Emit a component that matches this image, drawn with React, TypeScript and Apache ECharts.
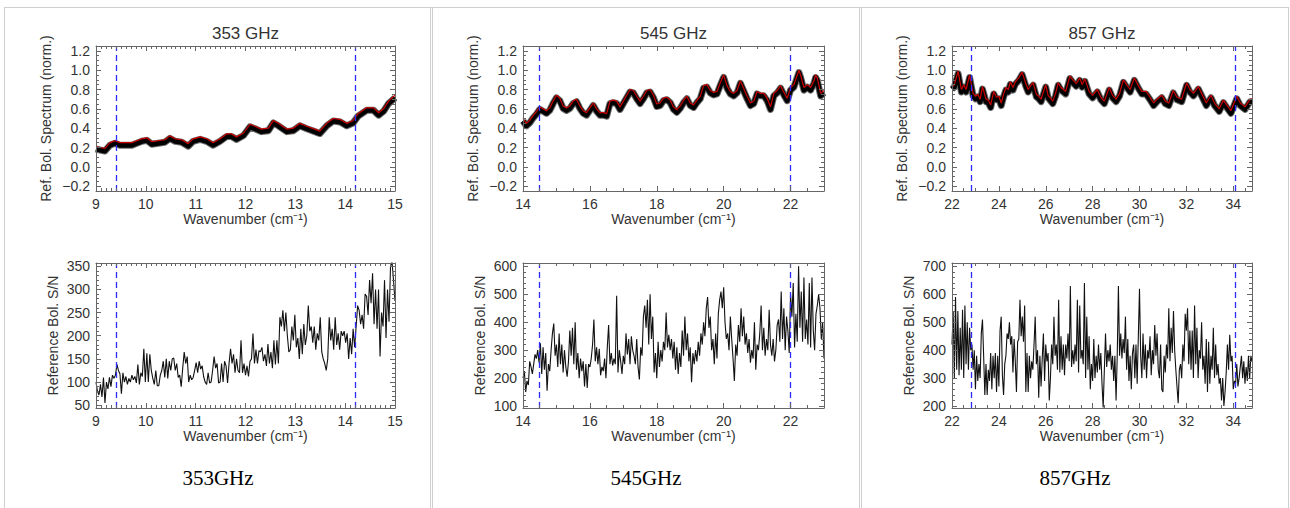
import React, { useEffect, useRef } from "react";
import * as echarts from "echarts";

// ---------------- DATA ----------------
const titles = ["353 GHz", "545 GHz", "857 GHz"];
const captions = ["353GHz", "545GHz", "857GHz"];
const specAxisName = "Ref. Bol. Spectrum (norm.)";
const snAxisName = "Reference Bol. S/N";
const xAxisName = "Wavenumber (cm\u207B\u00B9)";

// normalised reference bolometer spectra (red model line, black band)
const spec353X = [9.00, 9.08, 9.18, 9.28, 9.38, 9.48, 9.62, 9.72, 9.82, 9.92, 10.02, 10.12, 10.25, 10.38, 10.48, 10.59, 10.72, 10.85, 10.95, 11.09, 11.22, 11.35, 11.49, 11.62, 11.72, 11.82, 11.96, 12.09, 12.19, 12.32, 12.46, 12.56, 12.66, 12.83, 12.96, 13.09, 13.23, 13.39, 13.49, 13.63, 13.76, 13.90, 14.03, 14.16, 14.26, 14.43, 14.57, 14.67, 14.77, 14.87, 15.00];
const spec353Y = [0.21, 0.20, 0.19, 0.25, 0.27, 0.25, 0.25, 0.25, 0.27, 0.29, 0.30, 0.26, 0.27, 0.28, 0.32, 0.29, 0.28, 0.24, 0.29, 0.31, 0.29, 0.25, 0.29, 0.34, 0.34, 0.31, 0.35, 0.44, 0.42, 0.39, 0.40, 0.48, 0.45, 0.39, 0.40, 0.45, 0.42, 0.39, 0.37, 0.45, 0.50, 0.49, 0.45, 0.48, 0.55, 0.61, 0.61, 0.56, 0.60, 0.68, 0.74];

const spec545X = [14.0, 14.1, 14.2, 14.3, 14.4, 14.5, 14.6, 14.7, 14.8, 14.9, 15.0, 15.1, 15.2, 15.3, 15.4, 15.5, 15.6, 15.7, 15.8, 15.9, 16.0, 16.1, 16.2, 16.3, 16.4, 16.5, 16.6, 16.7, 16.8, 16.9, 17.0, 17.1, 17.2, 17.3, 17.4, 17.5, 17.6, 17.7, 17.8, 17.9, 18.0, 18.1, 18.2, 18.3, 18.4, 18.5, 18.6, 18.7, 18.8, 18.9, 19.0, 19.1, 19.2, 19.3, 19.4, 19.5, 19.6, 19.7, 19.8, 19.9, 20.0, 20.1, 20.2, 20.3, 20.4, 20.5, 20.6, 20.7, 20.8, 20.9, 21.0, 21.1, 21.2, 21.3, 21.4, 21.5, 21.6, 21.7, 21.8, 21.9, 22.0, 22.1, 22.2, 22.25, 22.3, 22.4, 22.5, 22.6, 22.7, 22.75, 22.8, 22.9, 23.0];
const spec545Y = [0.50, 0.45, 0.48, 0.53, 0.57, 0.62, 0.60, 0.58, 0.61, 0.68, 0.74, 0.71, 0.63, 0.61, 0.63, 0.68, 0.70, 0.63, 0.58, 0.56, 0.61, 0.66, 0.60, 0.56, 0.56, 0.55, 0.68, 0.69, 0.68, 0.62, 0.68, 0.74, 0.80, 0.79, 0.73, 0.68, 0.73, 0.79, 0.80, 0.74, 0.65, 0.66, 0.71, 0.72, 0.69, 0.62, 0.59, 0.63, 0.69, 0.73, 0.66, 0.64, 0.69, 0.73, 0.84, 0.85, 0.79, 0.77, 0.78, 0.87, 0.95, 0.84, 0.78, 0.76, 0.79, 0.89, 0.81, 0.73, 0.66, 0.68, 0.78, 0.76, 0.76, 0.71, 0.62, 0.76, 0.79, 0.84, 0.77, 0.71, 0.82, 0.85, 0.95, 1.00, 0.95, 0.82, 0.85, 0.82, 0.89, 0.95, 0.92, 0.76, 0.79];

const spec857X = [22.0, 22.1, 22.26, 22.4, 22.5, 22.6, 22.75, 22.9, 23.0, 23.1, 23.2, 23.3, 23.45, 23.55, 23.65, 23.78, 23.9, 24.0, 24.1, 24.2, 24.3, 24.4, 24.49, 24.6, 24.7, 24.85, 24.99, 25.15, 25.25, 25.35, 25.46, 25.6, 25.7, 25.8, 26.0, 26.1, 26.2, 26.3, 26.42, 26.53, 26.65, 26.85, 27.03, 27.15, 27.3, 27.45, 27.55, 27.67, 27.85, 28.0, 28.2, 28.35, 28.5, 28.71, 28.85, 29.0, 29.15, 29.31, 29.45, 29.6, 29.78, 29.95, 30.1, 30.28, 30.45, 30.6, 30.75, 30.95, 31.1, 31.25, 31.44, 31.6, 31.8, 32.01, 32.15, 32.3, 32.51, 32.65, 32.85, 33.05, 33.2, 33.4, 33.58, 33.75, 33.9, 34.15, 34.3, 34.5, 34.72, 34.8];
const spec857Y = [0.83, 0.85, 0.99, 0.80, 0.85, 0.80, 0.95, 0.76, 0.73, 0.75, 0.70, 0.83, 0.70, 0.69, 0.64, 0.78, 0.72, 0.73, 0.66, 0.75, 0.82, 0.80, 0.88, 0.82, 0.88, 0.92, 0.98, 0.86, 0.80, 0.84, 0.87, 0.75, 0.73, 0.70, 0.85, 0.74, 0.71, 0.68, 0.76, 0.87, 0.82, 0.78, 0.94, 0.90, 0.86, 0.92, 0.85, 0.91, 0.78, 0.74, 0.80, 0.72, 0.68, 0.82, 0.74, 0.70, 0.76, 0.90, 0.85, 0.80, 0.92, 0.84, 0.78, 0.78, 0.72, 0.66, 0.70, 0.74, 0.68, 0.66, 0.79, 0.72, 0.70, 0.87, 0.80, 0.76, 0.83, 0.76, 0.66, 0.74, 0.66, 0.60, 0.69, 0.63, 0.58, 0.73, 0.66, 0.62, 0.70, 0.70];

// reference bolometer S/N, sampled on a regular wavenumber grid
const sn353Start = 9.0;
const sn353Step = 0.03;
const sn353 = [
  100, 80, 72, 95, 68, 110, 55, 100, 85, 110,
  90, 115, 108, 115, 138, 125, 118, 75, 120, 100,
  112, 95, 108, 100, 115, 105, 112, 98, 138, 95,
  120, 112, 172, 100, 162, 100, 160, 125, 108, 95,
  125, 92, 92, 115, 125, 145, 110, 150, 108, 145,
  125, 150, 152, 125, 140, 110, 115, 90, 130, 165,
  140, 155, 100, 115, 105, 110, 125, 142, 120, 145,
  128, 135, 112, 100, 95, 120, 98, 100, 125, 155,
  130, 140, 98, 100, 140, 100, 145, 135, 98, 140,
  172, 140, 160, 120, 150, 125, 120, 190, 120, 140,
  115, 135, 112, 145, 150, 205, 140, 170, 140, 168,
  165, 175, 145, 160, 135, 182, 140, 165, 130, 190,
  138, 190, 140, 240, 220, 255, 210, 250, 200, 165,
  170, 220, 190, 245, 175, 195, 150, 215, 160, 225,
  180, 200, 265, 210, 220, 185, 220, 170, 205, 190,
  240, 165, 150, 140, 125, 150, 240, 190, 215, 170,
  240, 180, 205, 170, 210, 200, 210, 185, 205, 150,
  195, 160, 215, 175, 220, 265, 255, 225, 245, 215,
  290, 285, 245, 320, 270, 335, 225, 300, 215, 300,
  155, 250, 220, 320, 195, 300, 230, 350, 360, 320,
  275,
];
const sn545Start = 14.0;
const sn545Step = 0.04;
const sn545 = [
  200, 225, 150, 190, 175, 260, 240, 215, 250, 285,
  270, 300, 255, 325, 215, 310, 230, 290, 155, 250,
  225, 300, 360, 395, 280, 320, 240, 360, 250, 320,
  220, 300, 240, 205, 260, 370, 280, 380, 250, 400,
  230, 290, 200, 270, 225, 260, 170, 250, 165, 250,
  240, 270, 320, 410, 260, 310, 250, 305, 210, 240,
  225, 270, 200, 310, 390, 250, 290, 245, 270, 250,
  495, 220, 300, 260, 215, 280, 250, 360, 285, 340,
  250, 350, 300, 280, 250, 340, 240, 195, 310, 280,
  420, 460, 380, 480, 320, 500, 340, 420, 220, 290,
  200, 330, 240, 300, 260, 330, 300, 435, 310, 355,
  300, 340, 270, 330, 230, 310, 215, 290, 240, 370,
  280, 420, 300, 360, 260, 310, 185, 290, 250, 300,
  260, 330, 280, 360, 320, 400, 350, 450, 490, 380,
  420, 300, 340, 250, 360, 270, 430, 480, 510, 450,
  525, 400, 340, 360, 300, 420, 340, 270, 190, 320,
  280, 390, 330, 450, 350, 420, 320, 360, 290, 340,
  255, 300, 270, 400, 230, 320, 300, 360, 460, 300,
  380, 280, 340, 300, 445, 320, 280, 340, 260, 300,
  390, 410, 330, 510, 340, 450, 300, 420, 370, 290,
  500, 420, 540, 310, 430, 330, 600, 380, 510, 330,
  560, 340, 410, 320, 540, 310, 560, 370, 300, 430,
  460, 500, 450, 340, 400,
  270,
];
const sn857Start = 22.0;
const sn857Step = 0.05;
const sn857 = [
  420, 540, 300, 590, 330, 540, 310, 480, 330, 545,
  300, 560, 350, 500, 330, 480, 400, 420, 330, 400,
  260, 380, 290, 350, 300, 460, 510, 380, 240, 350,
  240, 330, 290, 390, 260, 380, 300, 390, 250, 380,
  270, 470, 520, 310, 240, 350, 380, 460, 440, 500,
  420, 450, 320, 440, 360, 250, 430, 440, 580, 450,
  520, 430, 560, 250, 390, 250, 380, 300, 360, 330,
  420, 520, 350, 400, 230, 380, 270, 370, 460, 290,
  420, 360, 390, 220, 300, 420, 350, 520, 380, 420,
  330, 580, 320, 450, 330, 420, 310, 420, 370, 460,
  360, 630, 340, 400, 350, 420, 360, 580, 320, 560,
  370, 400, 350, 640, 300, 520, 330, 450, 260, 350,
  290, 440, 300, 380, 320, 420, 330, 390, 280, 195,
  330, 460, 340, 400, 360, 420, 330, 380, 290, 380,
  220, 380, 630, 380, 460, 370, 440, 390, 520, 330,
  440, 290, 380, 260, 390, 420, 300, 420, 280, 450,
  620, 380, 300, 460, 330, 420, 300, 400, 370, 450,
  310, 400, 350, 490, 380, 460, 330, 300, 420, 260,
  250, 380, 320, 420, 370, 550, 360, 480, 390, 540,
  400, 330, 270, 210, 330, 350, 300, 420, 360, 530,
  470, 550, 350, 470, 330, 470, 300, 560, 350, 480,
  300, 400, 370, 500, 330, 380, 280, 440, 250, 430,
  280, 380, 330, 480, 300, 420, 310, 350, 280, 300,
  220, 300, 200, 250, 320, 420, 330, 455, 360, 380,
  260, 290, 280, 350, 270, 300, 340, 380, 300, 360,
  280, 340, 290, 380, 300, 380,
  360,
];

// band edges (dashed blue lines)
const bandEdges353 = [9.4, 14.2];
const bandEdges545 = [14.5, 22.0];
const bandEdges857 = [22.8, 34.1];

// tick labels
const xTicks353 = [9, 10, 11, 12, 13, 14, 15];
const xTicks545 = [14, 16, 18, 20, 22];
const xTicks857 = [22, 24, 26, 28, 30, 32, 34];
const yTicksSpec = [-0.2, 0, 0.2, 0.4, 0.6, 0.8, 1.0, 1.2];
const yTicksSN353 = [50, 100, 150, 200, 250, 300, 350];
const yTicksSN545 = [100, 200, 300, 400, 500, 600];
const yTicksSN857 = [200, 300, 400, 500, 600, 700];

// ---------------- STYLE / LAYOUT ----------------
const FONT = "'Liberation Sans', Arial, Helvetica, sans-serif";
const SERIF = "'Liberation Serif', 'Times New Roman', serif";
const AXIS_COLOR = "#666";
const LABEL_COLOR = "#333";
const BLUE = "#2b2bff";
const FS = 14;

function minorValues(min: number, max: number, step: number, major: number[]) {
  const out: number[] = [];
  const k0 = Math.ceil(min / step - 1e-9);
  const k1 = Math.floor(max / step + 1e-9);
  for (let k = k0; k <= k1; k++) {
    const v = +(k * step).toFixed(6);
    if (!major.some((m) => Math.abs(m - v) < 1e-6)) out.push(v);
  }
  return out;
}

function axisSet(
  dim: "x" | "y",
  gridIndex: number,
  min: number,
  max: number,
  major: number[],
  minorStep: number,
  formatter: (v: number) => string,
  name: string,
  nameGap: number
) {
  const minors = minorValues(min, max, minorStep, major);
  const posA = dim === "x" ? "bottom" : "left";
  const posB = dim === "x" ? "top" : "right";
  const common: any = {
    type: "value",
    gridIndex,
    min,
    max,
    splitLine: { show: false },
    splitArea: { show: false },
    minorTick: { show: false },
    minorSplitLine: { show: false },
    silent: true,
    z: 6,
  };
  const line = { show: true, onZero: false, lineStyle: { color: AXIS_COLOR, width: 1 } };
  const noLine = { show: false, onZero: false };
  const tick = (vals: number[], len: number) => ({
    show: true,
    inside: true,
    length: len,
    customValues: vals,
    lineStyle: { color: AXIS_COLOR, width: 1 },
  });
  return [
    {
      ...common,
      position: posA,
      axisLine: line,
      axisTick: tick(major, 5),
      axisLabel: {
        show: true,
        customValues: major,
        formatter,
        color: LABEL_COLOR,
        fontSize: FS,
        fontFamily: FONT,
        margin: dim === "x" ? 6 : 6,
      },
      name,
      nameLocation: "middle",
      nameGap,
      nameTextStyle: { color: LABEL_COLOR, fontSize: FS, fontFamily: FONT },
    },
    { ...common, position: posB, axisLine: line, axisTick: tick(major, 5), axisLabel: { show: false } },
    { ...common, position: posA, axisLine: noLine, axisTick: tick(minors, 3), axisLabel: { show: false } },
    { ...common, position: posB, axisLine: noLine, axisTick: tick(minors, 3), axisLabel: { show: false } },
  ];
}

const fmtInt = (v: number) => String(v);
const fmtSpec = (v: number) => (v < 0 ? "\u2212" : "") + Math.abs(v).toFixed(1);

function buildOption() {
  const specPanels = [
    { x: spec353X, y: spec353Y, xMin: 9, xMax: 15, xTicks: xTicks353, xMinor: 0.1, edges: bandEdges353, grid: { left: 96, top: 46, width: 299, height: 145 } },
    { x: spec545X, y: spec545Y, xMin: 14, xMax: 23, xTicks: xTicks545, xMinor: 0.5, edges: bandEdges545, grid: { left: 523, top: 46, width: 301, height: 145 } },
    { x: spec857X, y: spec857Y, xMin: 22, xMax: 34.8, xTicks: xTicks857, xMinor: 0.5, edges: bandEdges857, grid: { left: 952, top: 46, width: 300, height: 145 } },
  ];
  const snPanels = [
    { vals: sn353, start: sn353Start, step: sn353Step, xMin: 9, xMax: 15, xTicks: xTicks353, xMinor: 0.1, yMin: 44, yMax: 357, yTicks: yTicksSN353, yMinor: 10, edges: bandEdges353, grid: { left: 96, top: 263, width: 299, height: 145 } },
    { vals: sn545, start: sn545Start, step: sn545Step, xMin: 14, xMax: 23, xTicks: xTicks545, xMinor: 0.5, yMin: 93, yMax: 612, yTicks: yTicksSN545, yMinor: 20, edges: bandEdges545, grid: { left: 523, top: 263, width: 301, height: 145 } },
    { vals: sn857, start: sn857Start, step: sn857Step, xMin: 22, xMax: 34.8, xTicks: xTicks857, xMinor: 0.5, yMin: 193, yMax: 712, yTicks: yTicksSN857, yMinor: 20, edges: bandEdges857, grid: { left: 952, top: 263, width: 300, height: 145 } },
  ];

  const grids: any[] = [];
  const xAxes: any[] = [];
  const yAxes: any[] = [];
  const series: any[] = [];

  const markLine = (edges: number[]) => ({
    silent: true,
    symbol: ["none", "none"],
    label: { show: false },
    lineStyle: { color: BLUE, width: 1.3, type: [6, 4] },
    data: edges.map((v) => ({ xAxis: v })),
  });

  specPanels.forEach((p) => {
    const g = grids.length;
    grids.push({ ...p.grid, containLabel: false });
    xAxes.push(...axisSet("x", g, p.xMin, p.xMax, p.xTicks, p.xMinor, fmtInt, xAxisName, 21));
    yAxes.push(...axisSet("y", g, -0.25, 1.25, yTicksSpec, 0.05, fmtSpec, specAxisName, 43));
  });
  snPanels.forEach((p) => {
    const g = grids.length;
    grids.push({ ...p.grid, containLabel: false });
    xAxes.push(...axisSet("x", g, p.xMin, p.xMax, p.xTicks, p.xMinor, fmtInt, xAxisName, 21));
    yAxes.push(...axisSet("y", g, p.yMin, p.yMax, p.yTicks, p.yMinor, fmtInt, snAxisName, 36));
  });
  // overlay grids (band drawn slightly below the red model line)
  const overlayAxisStart = xAxes.length;
  specPanels.forEach((p) => {
    const g = grids.length;
    grids.push({ ...p.grid, top: p.grid.top + 2.5, containLabel: false });
    xAxes.push({ type: "value", gridIndex: g, min: p.xMin, max: p.xMax, show: false });
    yAxes.push({ type: "value", gridIndex: g, min: -0.25, max: 1.25, show: false });
  });

  specPanels.forEach((p, k) => {
    const data = p.x.map((x, i) => [x, p.y[i]]);
    const ov = overlayAxisStart + k;
    series.push({
      type: "line", xAxisIndex: ov, yAxisIndex: ov, data, symbol: "none", silent: true, z: 2,
      lineStyle: { color: "#6a6a6a", width: 7, join: "round" },
    });
    series.push({
      type: "line", xAxisIndex: ov, yAxisIndex: ov, data, symbol: "none", silent: true, z: 3,
      lineStyle: { color: "#000", width: 5, join: "round" },
    });
    series.push({
      type: "line", xAxisIndex: 4 * k, yAxisIndex: 4 * k, data, symbol: "none", silent: true, z: 4,
      lineStyle: { color: "#cc0000", width: 1.2 },
      markLine: markLine(p.edges),
    });
  });
  snPanels.forEach((p, k) => {
    const g = 3 + k;
    const data = p.vals.map((v, i) => [+(p.start + i * p.step).toFixed(4), v]);
    series.push({
      type: "line", xAxisIndex: 4 * g, yAxisIndex: 4 * g, data, symbol: "none", silent: true, z: 3,
      lineStyle: { color: "#111", width: 1.1 },
      markLine: markLine(p.edges),
    });
  });

  const border = "#cfcfcf";
  const graphics: any[] = [
    { type: "line", shape: { x1: 4, y1: 7.5, x2: 1289, y2: 7.5 }, style: { stroke: border, lineWidth: 1 } },
    ...[4.5, 430.5, 432.5, 859.5, 861.5, 1288.5].map((x) => ({
      type: "line", shape: { x1: x, y1: 7, x2: x, y2: 508 }, style: { stroke: border, lineWidth: 1 },
    })),
  ];
  specPanels.forEach((p, k) => {
    graphics.push({
      type: "text",
      x: p.grid.left + p.grid.width / 2,
      y: 33,
      style: { text: titles[k], fontSize: 17, fontFamily: FONT, fill: LABEL_COLOR, textAlign: "center", textVerticalAlign: "middle", align: "center", verticalAlign: "middle" },
    });
  });
  [218, 646, 1075].forEach((cx, k) => {
    graphics.push({
      type: "text",
      x: cx,
      y: 478,
      style: { text: captions[k], fontSize: 21, fontFamily: SERIF, fill: "#000", textAlign: "center", textVerticalAlign: "middle", align: "center", verticalAlign: "middle" },
    });
  });

  return {
    animation: false,
    backgroundColor: "#fff",
    grid: grids,
    xAxis: xAxes,
    yAxis: yAxes,
    series,
    graphic: graphics,
  };
}

export default function App() {
  const ref = useRef<HTMLDivElement>(null);
  useEffect(() => {
    if (!ref.current) return;
    const chart = echarts.init(ref.current, undefined, { renderer: "svg", width: 1290, height: 508 });
    chart.setOption(buildOption() as any);
    return () => chart.dispose();
  }, []);
  return (
    <div
      ref={ref}
      style={{ position: "fixed", left: 0, top: 0, width: 1290, height: 508, background: "#fff" }}
    />
  );
}
